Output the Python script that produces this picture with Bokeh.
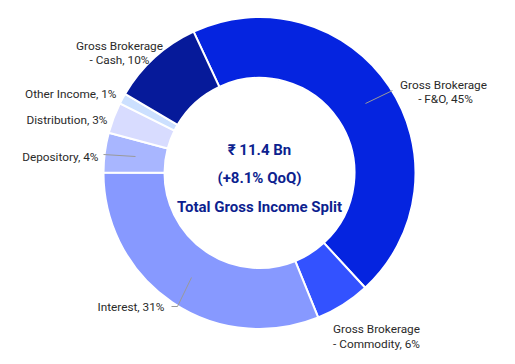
import math
from bokeh.plotting import figure
from bokeh.models import Range1d, ColumnDataSource
from bokeh.core.properties import value
from bokeh.embed import file_html
from bokeh.resources import INLINE

# ---- data ----
categories = ["Gross Brokerage - F&O", "Gross Brokerage - Commodity", "Interest",
              "Depository", "Distribution", "Other Income", "Gross Brokerage - Cash"]
shares = [45.1, 5.7, 31.2, 4.1, 3.2, 1.1, 9.6]
label_pct = ["45%", "6%", "31%", "4%", "3%", "1%", "10%"]
colors = ["#0524E0", "#3352FF", "#8799FF", "#A8B6FF", "#D8DCFF", "#CCE0FF", "#061A9A"]
title_lines = ["₹ 11.4 Bn", "(+8.1% QoQ)", "Total Gross Income Split"]

# ---- layout (screen px; y converted below) ----
H = 364
def Y(y):
    return H - y

cx, cy = 259, Y(172.5)
r_out, r_in = 156, 95
start_cw = -25.0  # degrees clockwise from 12 o'clock

p = figure(width=515, height=364, output_backend="svg", toolbar_location=None,
           x_range=Range1d(0, 515), y_range=Range1d(Y(364), Y(0)),
           min_border=0)
p.axis.visible = False
p.grid.visible = False
p.outline_line_color = None
p.background_fill_color = "white"

total = sum(shares)
starts, ends = [], []
acc = start_cw
for s in shares:
    a1 = acc
    a2 = acc + s / total * 360.0
    starts.append(math.radians(90 - a2))
    ends.append(math.radians(90 - a1))
    acc = a2

src = ColumnDataSource(dict(start=starts, end=ends, color=colors, cat=categories))
p.annular_wedge(x=cx, y=cy, inner_radius=r_in, outer_radius=r_out,
                start_angle="start", end_angle="end", fill_color="color",
                line_color="white", line_width=2, source=src)

# leader lines (screen coords)
leaders = [
    ([365, 392], [103, 90]),
    ([103, 135], [154, 156]),
    ([171, 177, 191], [306, 306, 277]),
]
p.multi_line(xs=[l[0] for l in leaders], ys=[[Y(v) for v in l[1]] for l in leaders],
             line_color="#9a9a9a", line_width=1)

font = value("Roboto")
lab_color = "#2a2a2a"
# label entries: (x, y, text, align)
labels = [
    (443, 84, "Gross Brokerage", "center"),
    (445, 98, "- " + "F&O, " + label_pct[0], "center"),
    (376, 328, "Gross Brokerage", "center"),
    (376, 343, "- Commodity, " + label_pct[1], "center"),
    (164, 306, "Interest, " + label_pct[2], "right"),
    (98, 156, "Depository, " + label_pct[3], "right"),
    (107, 119, "Distribution, " + label_pct[4], "right"),
    (116, 93, "Other Income, " + label_pct[5], "right"),
    (119, 45, "Gross Brokerage", "center"),
    (119, 59, "- Cash, " + label_pct[6], "center"),
]
for align in ("center", "right"):
    sel = [l for l in labels if l[3] == align]
    p.text(x=[l[0] for l in sel], y=[Y(l[1]) for l in sel], text=[l[2] for l in sel],
           text_font=font, text_font_size="11.8px", text_color=lab_color,
           text_align=align, text_baseline="middle")

p.text(x=[cx] * 3, y=[Y(149), Y(177), Y(206)], text=title_lines,
       text_font=font, text_font_size="15px", text_font_style="bold",
       text_color="#0D1F8F", text_align="center", text_baseline="middle")

open("out.html", "w").write(file_html(p, INLINE))
